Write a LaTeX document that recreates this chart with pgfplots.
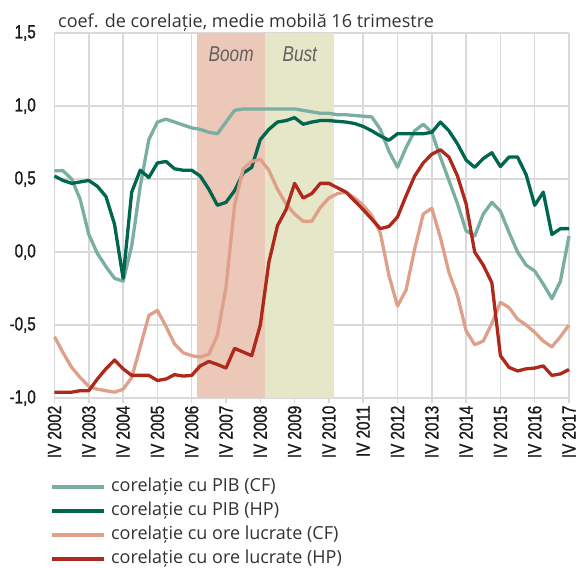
\documentclass[border=0pt]{standalone}
\usepackage{fontspec}
\setmainfont{Open Sans}
\newfontfamily\condfont[FakeStretch=0.8, FakeBold=1.1]{Liberation Sans}
\newfontfamily\condit[FakeStretch=0.8]{Liberation Sans}
\usepackage{pgfplots}
\pgfplotsset{compat=1.18}
\usepackage{pgfplotstable}
\definecolor{tealL}{HTML}{7AAEA3}
\definecolor{greenD}{HTML}{006650}
\definecolor{salmon}{HTML}{DEA089}
\definecolor{redD}{HTML}{AE281C}
\definecolor{boomc}{HTML}{ECC8B9}
\definecolor{bustc}{HTML}{E6E6C8}
\definecolor{gridc}{HTML}{D9D9D9}
\definecolor{textc}{HTML}{333333}
\definecolor{tickc}{HTML}{1A1A1A}

\pgfplotstableread{
q A B C D
0 0.556 0.52 -0.58 -0.96
1 0.556 0.49 -0.69 -0.96
2 0.50 0.47 -0.79 -0.96
3 0.36 0.48 -0.86 -0.95
4 0.12 0.49 -0.92 -0.95
5 -0.01 0.45 -0.94 -0.87
6 -0.10 0.38 -0.95 -0.80
7 -0.18 0.19 -0.96 -0.74
8 -0.20 -0.18 -0.94 -0.80
9 0.04 0.41 -0.86 -0.845
10 0.45 0.56 -0.65 -0.845
11 0.77 0.51 -0.435 -0.845
12 0.89 0.61 -0.40 -0.88
13 0.91 0.62 -0.51 -0.87
14 0.89 0.57 -0.63 -0.84
15 0.87 0.56 -0.69 -0.85
16 0.85 0.56 -0.71 -0.845
17 0.84 0.52 -0.72 -0.78
18 0.82 0.43 -0.70 -0.75
19 0.81 0.32 -0.57 -0.77
20 0.89 0.34 -0.24 -0.795
21 0.97 0.42 0.32 -0.66
22 0.98 0.54 0.57 -0.685
23 0.98 0.58 0.62 -0.71
24 0.98 0.77 0.635 -0.50
25 0.98 0.84 0.56 -0.07
26 0.98 0.89 0.43 0.18
27 0.98 0.90 0.33 0.29
28 0.98 0.92 0.26 0.47
29 0.97 0.875 0.21 0.37
30 0.96 0.89 0.21 0.40
31 0.95 0.90 0.305 0.47
32 0.95 0.90 0.37 0.47
33 0.94 0.895 0.40 0.44
34 0.94 0.89 0.41 0.41
35 0.935 0.88 0.37 0.35
36 0.93 0.86 0.32 0.29
37 0.925 0.83 0.25 0.225
38 0.84 0.795 0.13 0.16
39 0.69 0.765 -0.16 0.175
40 0.58 0.81 -0.37 0.24
41 0.715 0.81 -0.26 0.385
42 0.83 0.81 0.02 0.52
43 0.875 0.81 0.26 0.61
44 0.82 0.82 0.30 0.67
45 0.65 0.89 0.10 0.70
46 0.49 0.83 -0.14 0.65
47 0.33 0.74 -0.30 0.52
48 0.145 0.63 -0.54 0.33
49 0.11 0.58 -0.635 0.00
50 0.26 0.64 -0.61 -0.09
51 0.34 0.68 -0.49 -0.21
52 0.28 0.585 -0.345 -0.71
53 0.135 0.65 -0.38 -0.79
54 0.00 0.65 -0.46 -0.815
55 -0.09 0.53 -0.50 -0.80
56 -0.13 0.32 -0.55 -0.795
57 -0.22 0.41 -0.61 -0.78
58 -0.32 0.12 -0.65 -0.845
59 -0.20 0.16 -0.58 -0.835
60 0.11 0.16 -0.50 -0.805
}\datatable

\begin{document}
\begin{tikzpicture}
\begin{axis}[
  at={(0,0)}, anchor=south west,
  scale only axis, width=514.5pt, height=365pt,
  xmin=0, xmax=60, ymin=-1, ymax=1.5,
  xtick={0,4,...,60},
  xticklabels={IV 2002,IV 2003,IV 2004,IV 2005,IV 2006,IV 2007,IV 2008,IV 2009,IV 2010,IV 2011,IV 2012,IV 2013,IV 2014,IV 2015,IV 2016,IV 2017},
  ytick={-1,-0.5,0,0.5,1,1.5},
  grid=major,
  major grid style={draw=gridc, line width=1.5pt},
  axis line style={draw=none},
  tick align=outside,
  major tick length=5pt,
  xtick pos=bottom, ytick pos=left,
  xtick style={draw=gridc, line width=1.5pt},
  ytick style={draw=none},
  /pgf/number format/assume math mode=true,
  /pgf/number format/.cd, use comma, fixed, fixed zerofill, precision=1,
  /pgfplots/.cd,
  yticklabel style={font=\condfont\fontsize{19}{19}\selectfont, text=tickc, inner sep=0pt, xshift=-13.5pt},
  xticklabel style={font=\condfont\fontsize{19}{19}\selectfont, text=tickc, rotate=90, anchor=east, inner sep=2.5pt},
  legend style={at={(-0.008,-0.220)}, anchor=north west, draw=none, fill=none, inner sep=0pt,
    column sep=5pt, row sep=7.5pt, font=\fontsize{18}{18}\selectfont,
    nodes={inner sep=0pt, text height=12.5pt, text depth=4pt, text=textc}},
  legend cell align=left,
  legend image code/.code={\draw[#1, line width=3.5pt] (0pt,0pt) -- (52pt,0pt);},
  clip=false,
]
\addplot[fill=boomc, draw=none, forget plot] coordinates {(16.6,-1) (16.6,1.5) (24.6,1.5) (24.6,-1)} -- cycle;
\addplot[fill=bustc, draw=none, forget plot] coordinates {(24.6,-1) (24.6,1.5) (32.6,1.5) (32.6,-1)} -- cycle;
\addplot[tealL, line width=3.3pt, line join=round] table[x=q, y=A] {\datatable};
\addlegendentry{corelație cu PIB (CF)}
\addplot[greenD, line width=3.3pt, line join=round] table[x=q, y=B] {\datatable};
\addlegendentry{corelație cu PIB (HP)}
\addplot[salmon, line width=3.3pt, line join=round] table[x=q, y=C] {\datatable};
\addlegendentry{corelație cu ore lucrate (CF)}
\addplot[redD, line width=3.3pt, line join=round] table[x=q, y=D] {\datatable};
\addlegendentry{corelație cu ore lucrate (HP)}
\node[font=\condit\itshape\fontsize{21.5}{21.5}\selectfont, text=black!62] at (axis cs:20.6,1.356) {Boom};
\node[font=\condit\itshape\fontsize{21.5}{21.5}\selectfont, text=black!62] at (axis cs:28.6,1.356) {Bust};
\node[anchor=base west, inner sep=0pt, font=\fontsize{18}{18}\selectfont, text=textc] at ([xshift=3.5pt, yshift=5pt]rel axis cs:0,1) {coef. de corelație, medie mobilă 16 trimestre};
\end{axis}
\pgfresetboundingbox
\path (-54.5pt,-169pt) rectangle (525.5pt,398pt);
\end{tikzpicture}
\end{document}
